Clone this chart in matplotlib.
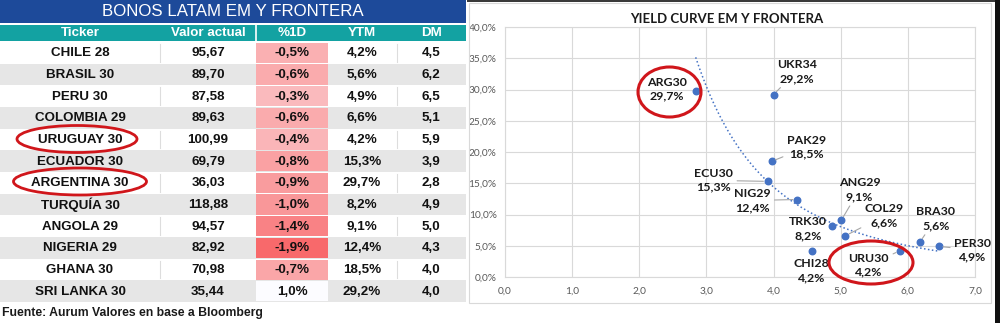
import numpy as np
import matplotlib
matplotlib.use("Agg")
import matplotlib.pyplot as plt
from matplotlib.patches import Rectangle, Ellipse
from matplotlib.colors import LinearSegmentedColormap, Normalize

# ---------------- data ----------------
tickers = ["CHILE 28", "BRASIL 30", "PERU 30", "COLOMBIA 29", "URUGUAY 30", "ECUADOR 30",
           "ARGENTINA 30", "TURQUÍA 30", "ANGOLA 29", "NIGERIA 29", "GHANA 30", "SRI LANKA 30"]
valor = [95.67, 89.70, 87.58, 89.63, 100.99, 69.79, 36.03, 118.88, 94.57, 82.92, 70.98, 35.44]
chg_1d = [-0.5, -0.6, -0.3, -0.6, -0.4, -0.8, -0.9, -1.0, -1.4, -1.9, -0.7, 1.0]
ytm = [4.2, 5.6, 4.9, 6.6, 4.2, 15.3, 29.7, 8.2, 9.1, 12.4, 18.5, 29.2]
dm = [4.5, 6.2, 6.5, 5.1, 5.9, 3.9, 2.8, 4.9, 5.0, 4.3, 4.0, 4.0]
headers = ["Ticker", "Valor actual", "%1D", "YTM", "DM"]

curve_labels = ["ARG30", "UKR34", "PAK29", "ECU30", "NIG29", "TRK30", "ANG29", "COL29",
                "CHI28", "URU30", "BRA30", "PER30"]
curve_dm = [2.84, 4.00, 3.97, 3.91, 4.35, 4.87, 5.01, 5.07, 4.57, 5.88, 6.18, 6.46]
curve_ytm = [29.7, 29.2, 18.5, 15.3, 12.4, 8.2, 9.1, 6.6, 4.2, 4.2, 5.6, 4.9]
x_ticks = [0, 1, 2, 3, 4, 5, 6, 7]
y_ticks = [0, 5, 10, 15, 20, 25, 30, 35, 40]

def fmt(v, d):
    return f"{v:.{d}f}".replace(".", ",")

W, H = 1000, 323
fig = plt.figure(figsize=(W / 100, H / 100), dpi=100)
fig.patch.set_facecolor("white")

# ---------------- table (pixel coordinate axes) ----------------
tab = fig.add_axes([0, 0, 1, 1])
tab.set_xlim(0, W)
tab.set_ylim(H, 0)
tab.axis("off")

TF = "Liberation Sans"
tab_right = 466
col_centers = [80, 208, 292, 362, 431]
row_top0, row_h = 42, 21.67

# title bar
tab.add_patch(Rectangle((0, 0), tab_right, 23, facecolor="#1D4A9A", edgecolor="none"))
tab.text(tab_right / 2, 12, "BONOS LATAM EM Y FRONTERA", color="white", ha="center",
         va="center", fontsize=12.2, family=TF)
# header
tab.add_patch(Rectangle((0, 24.5), tab_right, 16.5, facecolor="#13A2A2", edgecolor="none"))
tab.plot([255.5, 255.5], [24.5, 41], color="white", lw=1.2)
for h, cx in zip(headers, col_centers):
    tab.text(cx, 33, h, color="white", ha="center", va="center", fontsize=9.6,
             fontweight="bold", family=TF)

cmap = LinearSegmentedColormap.from_list("cf", ["#F8696B", "#FCFCFF"])
norm = Normalize(min(chg_1d), max(chg_1d))

for i, t in enumerate(tickers):
    top = row_top0 + i * row_h
    cy = top + row_h / 2 + 0.5
    if i % 2 == 1:
        tab.add_patch(Rectangle((0, top), tab_right, row_h, facecolor="#E6E6E6",
                                edgecolor="none"))
    else:
        for sx in (160, 397):
            tab.plot([sx, sx], [top + 2, top + row_h - 2], color="#DDDDDD", lw=0.8)
    tab.add_patch(Rectangle((256, top + 0.8), 72, row_h - 1.6,
                            facecolor=cmap(norm(chg_1d[i])), edgecolor="none"))
    vals = [t, fmt(valor[i], 2), fmt(chg_1d[i], 1) + "%", fmt(ytm[i], 1) + "%", fmt(dm[i], 1)]
    for v, cx in zip(vals, col_centers):
        tab.text(cx, cy, v, ha="center", va="center", fontsize=9.6, fontweight="bold",
                 family=TF, color="#111111")

tab.text(2, 313, "Fuente: Aurum Valores en base a Bloomberg", ha="left", va="center",
         fontsize=8.8, fontweight="bold", family=TF, color="#1A1A1A")

# red ellipses on table
for (cx, cy, w, h) in [(77, 139, 120, 27), (80, 181.5, 133, 27)]:
    tab.add_patch(Ellipse((cx, cy), w, h, facecolor="none", edgecolor="#D0161B", lw=2.0))

# chart frame and dark borders
tab.add_patch(Rectangle((469, 3), 522, 300, facecolor="none", edgecolor="#D9D9D9", lw=0.8))
tab.add_patch(Rectangle((467, 0), W - 467, 1.8, facecolor="#3A3A3A", edgecolor="none"))
tab.add_patch(Rectangle((995, 0), 5, H, facecolor="#111111", edgecolor="none"))

# ---------------- scatter chart ----------------
CF = "Lato"
x0, x1 = 505, 975
y_top, y_bot = 27, 277
ax = fig.add_axes([x0 / W, (H - y_bot) / H, (x1 - x0) / W, (y_bot - y_top) / H])
ax.set_facecolor("none")
ax.set_xlim(0, 7)
ax.set_ylim(0, 40)
ax.set_xticks(x_ticks)
ax.set_yticks(y_ticks)
ax.set_xticklabels([fmt(v, 1) for v in x_ticks], family=CF, fontsize=7.3, color="#595959")
ax.set_yticklabels([fmt(v, 1) + "%" for v in y_ticks], family=CF, fontsize=7.3, color="#595959")
ax.tick_params(axis="y", length=0, pad=6)
ax.tick_params(axis="x", length=0, pad=7)
ax.grid(True, color="#D9D9D9", lw=0.8)
ax.set_axisbelow(True)
for s in ax.spines.values():
    s.set_color("#D9D9D9")
    s.set_linewidth(0.8)

# power trendline (least squares in log space)
lx, ly = np.log(curve_dm), np.log(curve_ytm)
b, a = np.polyfit(lx, ly, 1)
xs = np.linspace(min(curve_dm), max(curve_dm), 200)
ax.plot(xs, np.exp(a) * xs ** b, color="#4472C4", lw=1.1, ls=(0, (1, 1.6)), zorder=2)

ax.scatter(curve_dm, curve_ytm, s=22, color="#4472C4", zorder=3)

# label offsets in pixels (x right, y up) and whether a leader line is shown
offsets = {"ARG30": (-29, 2, False), "UKR34": (23, 23, True), "PAK29": (35, 14, True),
           "ECU30": (-54, 1, True), "NIG29": (-45, -1, True), "TRK30": (-24, -3, False),
           "ANG29": (18, 30.5, True), "COL29": (39, 20, True), "CHI28": (0, -20, False),
           "URU30": (-31, -14.5, True), "BRA30": (16, 23.5, True), "PER30": (34, -3.5, True)}
for lab, xv, yv in zip(curve_labels, curve_dm, curve_ytm):
    dx, dy, lead = offsets[lab]
    kw = {}
    if lead:
        kw["arrowprops"] = dict(arrowstyle="-", color="#A6A6A6", lw=0.8, shrinkA=1, shrinkB=3)
    ax.annotate(f"{lab}\n{fmt(yv, 1)}%", (xv, yv), xytext=(dx, dy), textcoords="offset pixels",
                ha="center", va="center", fontsize=8.9, fontweight="bold", family=CF,
                color="#1A1A1A", linespacing=1.3, annotation_clip=False, zorder=4, **kw)

fig.text(727 / W, 1 - 19 / H, "YIELD CURVE EM Y FRONTERA", ha="center", va="center",
         fontsize=9.5, fontweight="bold", family=CF, color="#1A1A1A")

# red ellipses on chart
for (cx, cy, w, h) in [(669.5, 92, 63, 50), (871, 262.5, 84, 43)]:
    tab.add_patch(Ellipse((cx, cy), w, h, facecolor="none", edgecolor="#D0161B", lw=2.2,
                          zorder=10))
tab.set_zorder(5)
tab.patch.set_alpha(0)

fig.savefig("out.png", dpi=100, facecolor="white")
